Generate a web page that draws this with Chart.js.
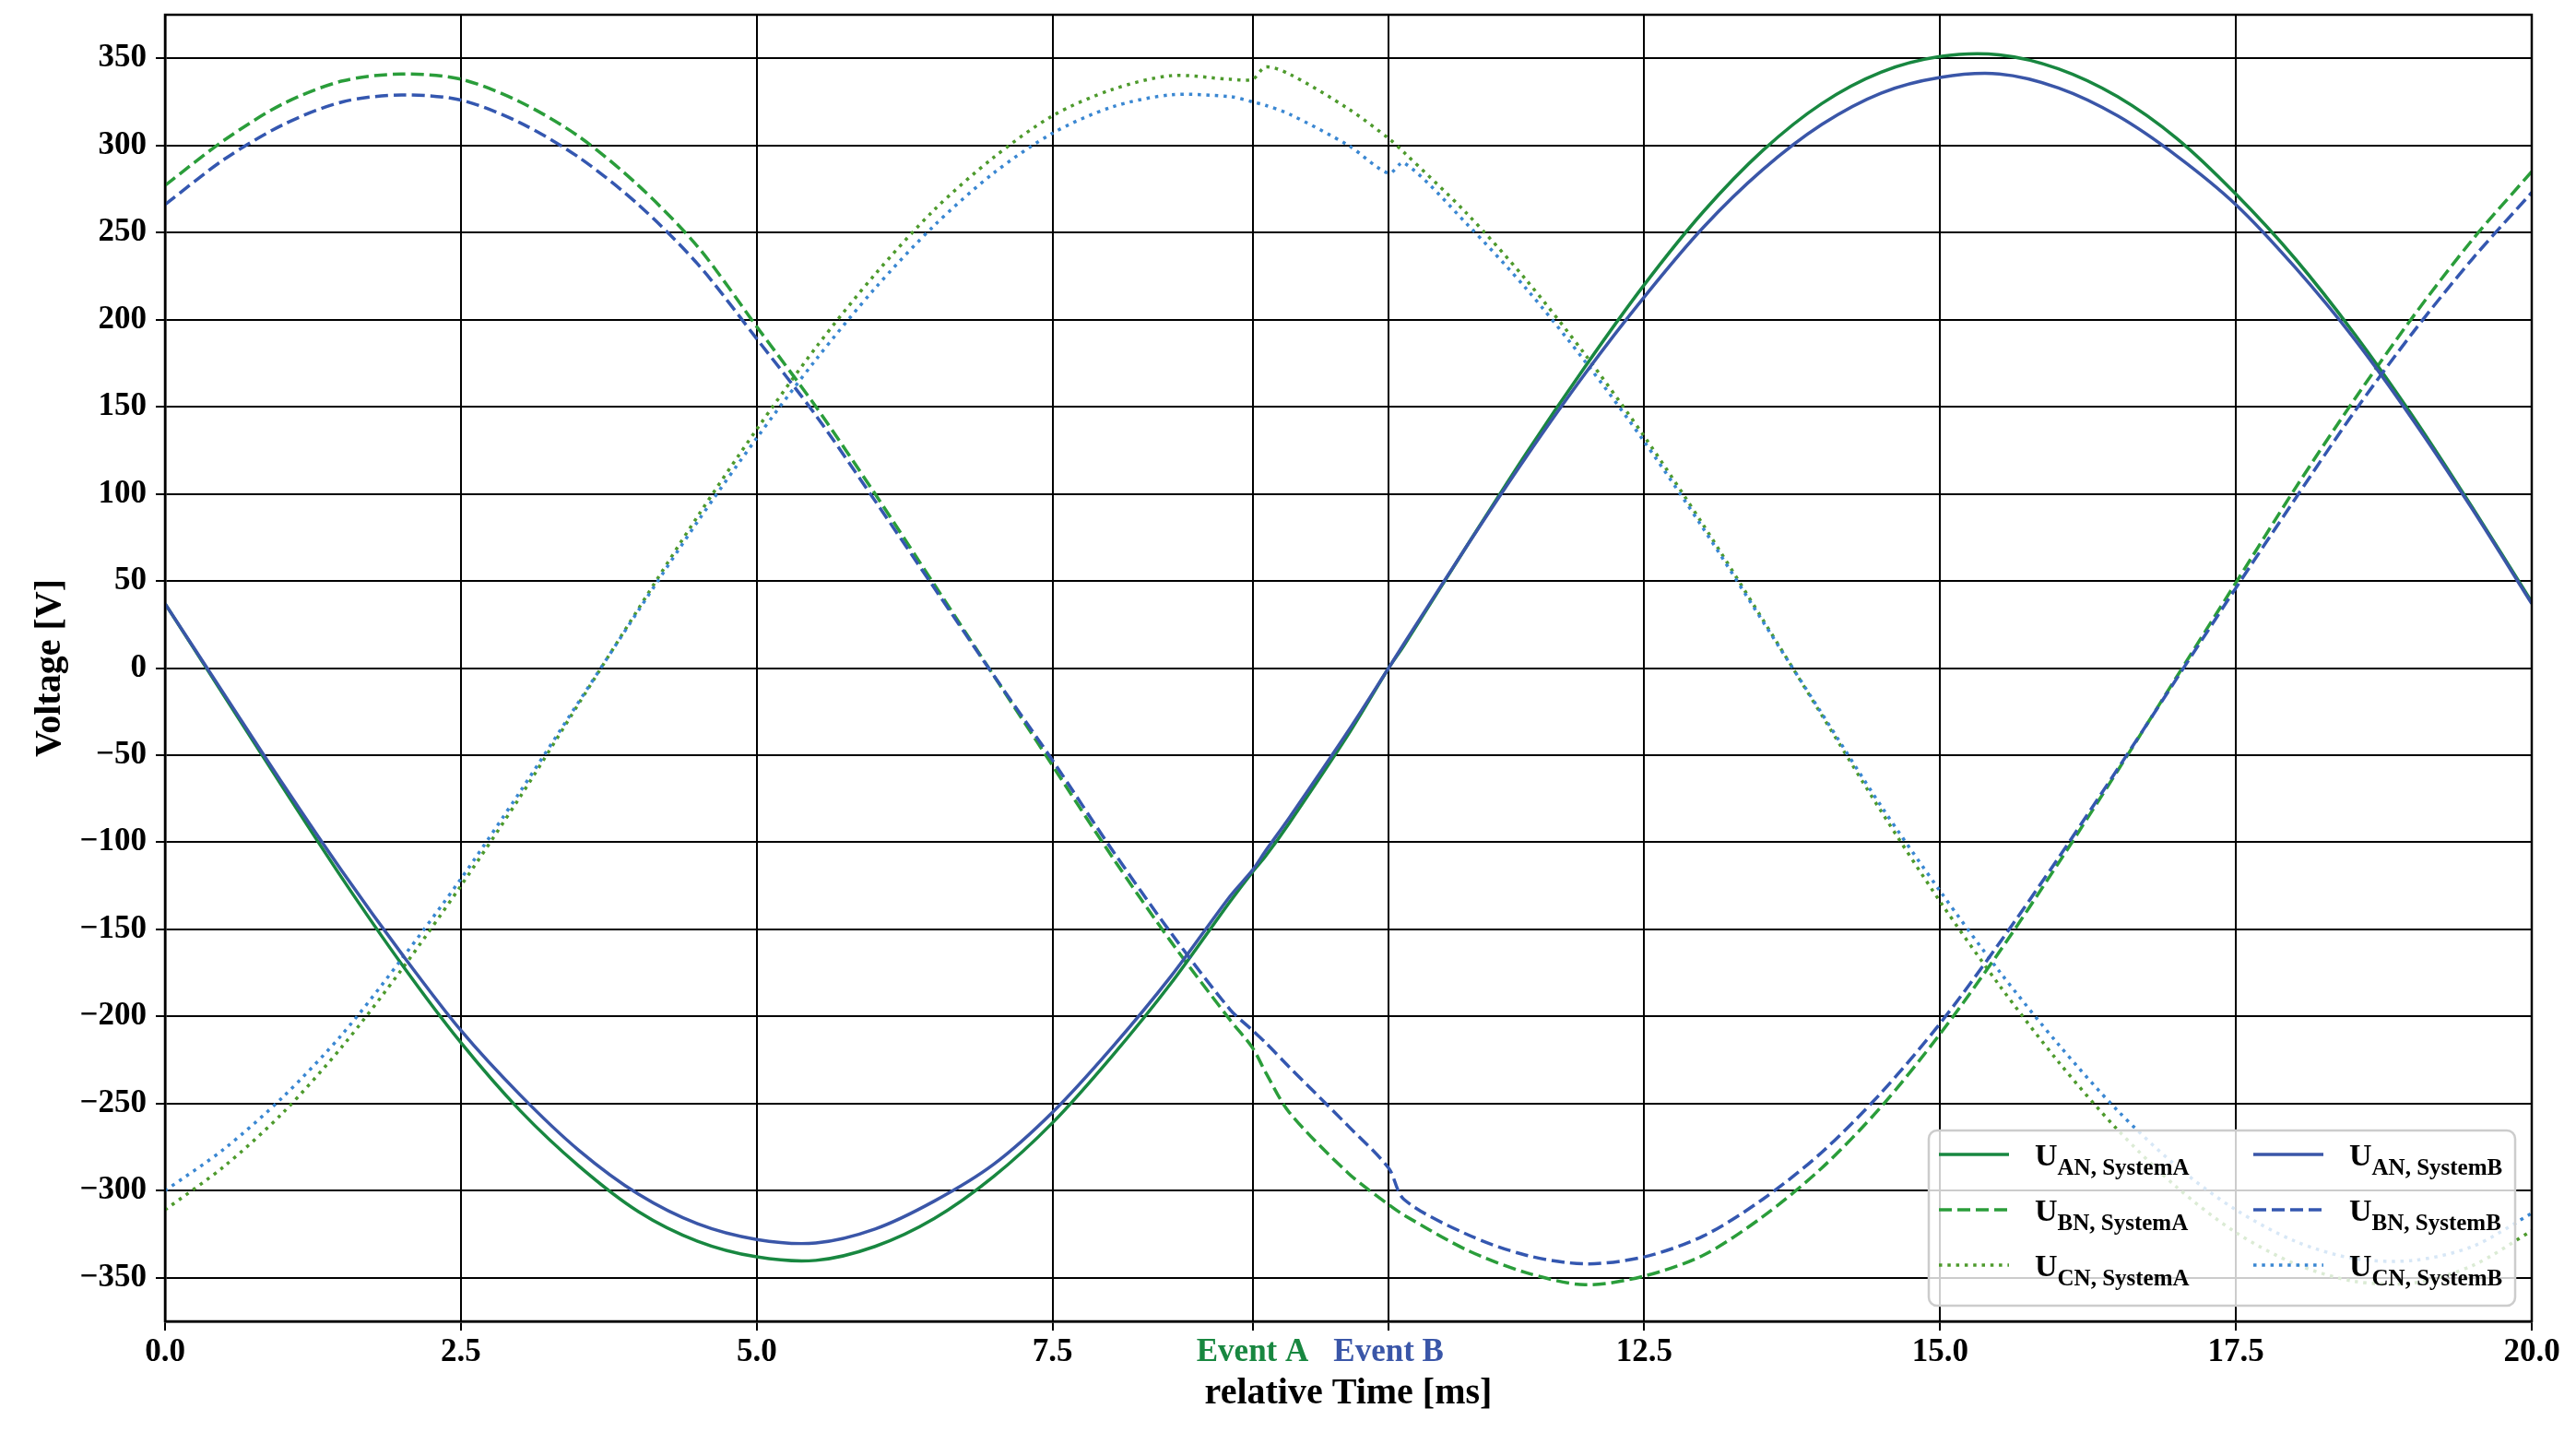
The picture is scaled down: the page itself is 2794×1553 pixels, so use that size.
<!DOCTYPE html>
<html>
<head>
<meta charset="utf-8">
<script src="https://cdn.jsdelivr.net/npm/chart.js@4.4.0/dist/chart.umd.min.js"></script>
<style>
    html, body { margin: 0; padding: 0; background: #fff; }
    #wrap { width: 2794px; height: 1553px; }
</style>
</head>
<body>
<div id="wrap"><canvas id="voltageChart" width="2794" height="1553"></canvas></div>
<script>
// relative time [ms]
const timeMs = [0, 0.5, 1, 1.5, 2, 2.5, 3, 3.5, 4, 4.5, 5, 5.5, 6, 6.5, 7, 7.5, 8, 8.5, 9,
    9.19, 9.3, 9.5, 10, 10.34, 10.47,
    11, 11.5, 12, 12.5, 13, 13.5, 14, 14.5, 15, 15.5, 16, 16.5, 17, 17.5, 18, 18.5, 19, 19.5, 20];

// System A voltages [V]
const uAnSystemA = [37, -16, -69, -121, -170, -215, -254, -286, -312, -329, -338, -340, -332, -316, -292, -261, -223, -181, -134,
    -117, -108, -89, -38, 0, 13,
    70, 123, 173, 220, 262, 297, 324, 342, 351, 352, 344, 328, 304, 272, 235, 192, 144, 92, 38];
const uBnSystemA = [277, 303, 324, 337, 341, 338, 325, 305, 277, 242, 196, 150, 100, 48, -4, -56, -108, -157, -202,
    -218, -232, -255, -290, -308, -314,
    -334, -347, -354, -349, -337, -315, -287, -252, -210, -163, -112, -59, -5, 49, 103, 154, 202, 246, 285];
const uCnSystemA = [-311, -286, -255, -217, -173, -125, -74, -20, 34, 87, 137, 184, 226, 263, 293, 317, 332, 340, 338,
    338, 345, 341, 321, 304, 296,
    261, 223, 180, 133, 82, 28, -27, -82, -134, -182, -226, -265, -298, -324, -342, -352, -353, -343, -323];

// System B voltages [V]
const uAnSystemB = [37, -15, -67, -117, -164, -208, -245, -277, -302, -319, -328, -330, -322, -306, -285, -255, -218, -177, -131,
    -116, -105, -86, -36, 0, 14,
    70, 121, 169, 213, 253, 286, 312, 330, 339, 341, 333, 317, 294, 266, 230, 189, 142, 91, 37];
const uBnSystemB = [266, 292, 312, 325, 329, 326, 313, 293, 266, 232, 189, 145, 96, 46, -4, -53, -104, -152, -196,
    -208, -215, -229, -263, -287, -305,
    -325, -337, -342, -338, -326, -305, -278, -244, -204, -158, -109, -58, -6, 46, 97, 147, 193, 235, 273];
const uCnSystemB = [-300, -276, -246, -210, -167, -121, -71, -19, 33, 84, 132, 177, 218, 254, 284, 307, 322, 329, 328,
    325, 323, 318, 300, 284, 290,
    255, 218, 176, 130, 80, 27, -26, -79, -128, -174, -216, -254, -286, -311, -329, -339, -340, -332, -313];

// events and ticks
const eventA = 9.19;
const eventB = 10.34;
const xTicks = [0, 2.5, 5, 7.5, eventA, eventB, 12.5, 15, 17.5, 20];
const yTicks = [-350, -300, -250, -200, -150, -100, -50, 0, 50, 100, 150, 200, 250, 300, 350];

const vert = { a: '#188740', b: '#2a9d3a', c: '#4d9a2c' };
const bleu = { a: '#3a56a8', b: '#3457b0', c: '#3a87d2' };
const serif = '"Liberation Serif", "Times New Roman", serif';

function serie(sub, values, color, dash, order) {
    return {
        label: 'U' + sub,
        sub,
        data: timeMs.map((t, i) => ({ x: t, y: values[i] })),
        borderColor: color,
        borderWidth: 3.5,
        borderDash: dash,
        pointRadius: 0,
        tension: 0.3,
        fill: false,
        order
    };
}

const dashed = [14, 6];
const dotted = [3.5, 5.8];

// legend drawn inside the plot, bottom right, two columns
const legendeInterne = {
    id: 'legendeInterne',
    afterDatasetsDraw(chart) {
        const { ctx, chartArea } = chart;
        const w = 636, h = 190;
        const x0 = chartArea.right - 18 - w;
        const y0 = chartArea.bottom - 17 - h;
        ctx.save();
        ctx.beginPath();
        ctx.roundRect(x0, y0, w, h, 9);
        ctx.fillStyle = 'rgba(255,255,255,0.8)';
        ctx.fill();
        ctx.lineWidth = 2.5;
        ctx.strokeStyle = '#cccccc';
        ctx.stroke();
        chart.data.datasets.forEach((ds, i) => {
            const col = Math.floor(i / 3), row = i % 3;
            const lx = x0 + 11 + col * 341;
            const ly = y0 + 26 + row * 60;
            ctx.beginPath();
            ctx.setLineDash(ds.borderDash || []);
            ctx.strokeStyle = ds.borderColor;
            ctx.lineWidth = ds.borderWidth;
            ctx.moveTo(lx, ly);
            ctx.lineTo(lx + 76, ly);
            ctx.stroke();
            ctx.setLineDash([]);
            ctx.fillStyle = '#000';
            ctx.textBaseline = 'alphabetic';
            ctx.textAlign = 'left';
            ctx.font = 'bold 34px ' + serif;
            const tx = lx + 104;
            ctx.fillText('U', tx, ly + 12);
            const uw = ctx.measureText('U').width;
            ctx.font = 'bold 25px ' + serif;
            ctx.fillText(ds.sub, tx + uw, ly + 22);
        });
        ctx.restore();
    }
};

// full frame around the plot
const cadre = {
    id: 'cadre',
    afterDraw(chart) {
        const { ctx, chartArea } = chart;
        ctx.save();
        ctx.strokeStyle = '#000';
        ctx.lineWidth = 2.5;
        ctx.strokeRect(chartArea.left, chartArea.top, chartArea.right - chartArea.left, chartArea.bottom - chartArea.top);
        ctx.restore();
    }
};

const ctx = document.getElementById('voltageChart').getContext('2d');
window.voltageChart = new Chart(ctx, {
    type: 'line',
    data: {
        datasets: [
            serie('AN, SystemA', uAnSystemA, vert.a, [], 2),
            serie('BN, SystemA', uBnSystemA, vert.b, dashed, 2),
            serie('CN, SystemA', uCnSystemA, vert.c, dotted, 2),
            serie('AN, SystemB', uAnSystemB, bleu.a, [], 1),
            serie('BN, SystemB', uBnSystemB, bleu.b, dashed, 1),
            serie('CN, SystemB', uCnSystemB, bleu.c, dotted, 1)
        ]
    },
    options: {
        responsive: false,
        devicePixelRatio: 1,
        animation: false,
        layout: { padding: { left: 31, right: 48, top: 16, bottom: 17 } },
        plugins: { legend: { display: false }, tooltip: { enabled: false } },
        scales: {
            x: {
                type: 'linear',
                min: 0,
                max: 20,
                afterBuildTicks: scale => { scale.ticks = xTicks.map(v => ({ value: v })); },
                afterFit: scale => {
                    scale.height = 1553 - 1433 - 17;
                    scale.paddingLeft = 0;
                    scale.paddingRight = 0;
                },
                grid: { color: '#000', lineWidth: 2, tickLength: 10, tickColor: '#000' },
                border: { color: '#000', width: 2.5 },
                ticks: {
                    autoSkip: false,
                    maxRotation: 0,
                    padding: 5,
                    font: { family: serif, size: 35, weight: 'bold', lineHeight: 1.1 },
                    color: c => c.tick && c.tick.value === eventA ? vert.a : (c.tick && c.tick.value === eventB ? bleu.a : '#000'),
                    callback: v => v === eventA ? 'Event A' : (v === eventB ? 'Event B' : Number(v).toFixed(1))
                },
                title: {
                    display: true,
                    text: 'relative Time [ms]',
                    color: '#000',
                    padding: { top: 0, bottom: 0 },
                    font: { family: serif, size: 40, weight: 'bold' }
                }
            },
            y: {
                min: -375,
                max: 375,
                afterBuildTicks: scale => { scale.ticks = yTicks.map(v => ({ value: v })); },
                afterFit: scale => {
                    scale.width = 179 - 31;
                    scale.paddingTop = 0;
                    scale.paddingBottom = 0;
                },
                grid: { color: '#000', lineWidth: 2, tickLength: 10, tickColor: '#000' },
                border: { color: '#000', width: 2.5 },
                ticks: {
                    padding: 10,
                    color: '#000',
                    font: { family: serif, size: 35, weight: 'bold', lineHeight: 0.9 },
                    callback: v => String(v).replace('-', '\u2212')
                },
                title: {
                    display: true,
                    text: 'Voltage [V]',
                    color: '#000',
                    padding: { top: 0, bottom: 0 },
                    font: { family: serif, size: 40, weight: 'bold' }
                }
            }
        }
    },
    plugins: [legendeInterne, cadre]
});
</script>
</body>
</html>
